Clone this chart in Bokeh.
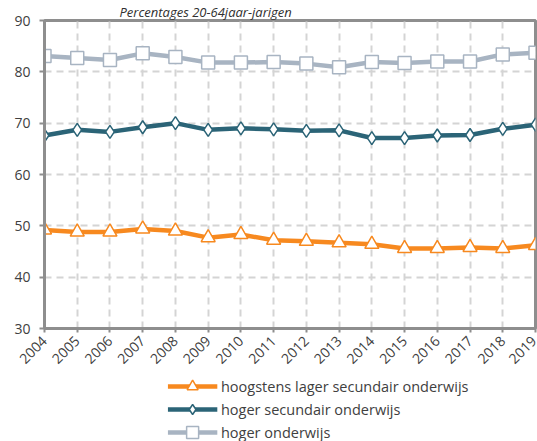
import math
from bokeh.plotting import figure
from bokeh.layouts import column
from bokeh.models import FixedTicker, Range1d
from bokeh.core.properties import value
from bokeh.embed import file_html
from bokeh.resources import INLINE

years = list(range(2004, 2020))
low_edu = [49.2, 48.8, 48.8, 49.4, 49.0, 47.7, 48.3, 47.2, 47.0, 46.7, 46.4, 45.6, 45.6, 45.8, 45.6, 46.2]
mid_edu = [67.6, 68.7, 68.3, 69.2, 70.0, 68.7, 69.0, 68.8, 68.5, 68.6, 67.1, 67.1, 67.6, 67.7, 68.9, 69.7]
high_edu = [83.1, 82.7, 82.3, 83.6, 82.9, 81.8, 81.8, 81.9, 81.6, 80.9, 81.9, 81.7, 82.0, 82.0, 83.4, 83.7]
series_names = ["hoogstens lager secundair onderwijs", "hoger secundair onderwijs", "hoger onderwijs"]
y_ticks = [30, 40, 50, 60, 70, 80, 90]
subtitle = "Percentages 20-64jaar-jarigen"

FONT = "Open Sans"
TXT = "#404040"
AX = "#8e8e8e"
W = 537
H_MAIN = 372
H_LEG = 69

p = figure(width=W, height=H_MAIN, output_backend="svg", toolbar_location=None,
           x_range=Range1d(years[0], years[-1]), y_range=Range1d(y_ticks[0], y_ticks[-1]),
           min_border_left=44, min_border_right=2, min_border_top=0, min_border_bottom=44)
p.title.text = subtitle
p.title.text_font = FONT
p.title.text_font_style = "italic"
p.title.text_font_size = "13px"
p.title.text_color = "#303030"
p.title.align = "left"
p.title.offset = 75
p.title.standoff = 0
p.background_fill_color = "white"
p.border_fill_color = "white"
p.outline_line_color = AX
p.outline_line_width = 3

for ax in (p.xaxis[0], p.yaxis[0]):
    ax.axis_line_color = AX
    ax.axis_line_width = 3
    ax.major_tick_line_color = AX
    ax.major_tick_line_width = 2
    ax.major_tick_in = 0
    ax.minor_tick_line_color = None
    ax.major_label_text_font = FONT
    ax.major_label_text_color = TXT
    ax.major_label_text_font_size = "14px"

p.xaxis.ticker = FixedTicker(ticks=years)
p.xaxis.major_tick_out = 4
p.xaxis.major_label_orientation = math.pi / 4
p.xaxis.major_label_standoff = 6
p.xaxis.major_label_text_font_size = "14px"
p.yaxis.ticker = FixedTicker(ticks=y_ticks)
p.yaxis.major_tick_out = 5
p.yaxis.major_label_standoff = 9

for g in (p.xgrid[0], p.ygrid[0]):
    g.grid_line_color = "#d4d4d4"
    g.grid_line_width = 2
    g.grid_line_dash = "7 5"

colors = ["#F7891F", "#2B6477", "#A8B4C2"]
markers = ["triangle", "diamond", "square"]
sizes = [14, 13, 13]
leg_sizes = [11, 10, 12]
data = [low_edu, mid_edu, high_edu]

for name, ys, c, m, s in zip(series_names, data, colors, markers, sizes):
    p.line(years, ys, line_color=c, line_width=4.5)
    p.scatter(years, ys, marker=m, size=s, fill_color="white", line_color=c, line_width=1.5)

# legend drawn in its own strip below the chart (pixel-scaled ranges)
lg = figure(width=W, height=H_LEG, output_backend="svg", toolbar_location=None,
            x_range=Range1d(0, W), y_range=Range1d(H_LEG, 0),
            min_border=0, min_border_left=0, min_border_right=0,
            min_border_top=0, min_border_bottom=0)
lg.axis.visible = False
lg.grid.visible = False
lg.outline_line_color = None
lg.background_fill_color = "white"
lg.border_fill_color = "white"

row_y = [14, 37, 60]
for name, c, m, s, ry in zip(series_names, colors, markers, leg_sizes, row_y):
    lg.line([135, 189], [ry, ry], line_color=c, line_width=4.5)
    lg.scatter([162], [ry], marker=m, size=s, fill_color="white", line_color=c, line_width=1.5)
    lg.text([193], [ry], text=[name], text_font=value(FONT), text_font_size="14.5px",
            text_color=TXT, text_baseline="middle", text_align="left")

layout = column(p, lg, spacing=0)
open("out.html", "w").write(file_html(layout, INLINE))
